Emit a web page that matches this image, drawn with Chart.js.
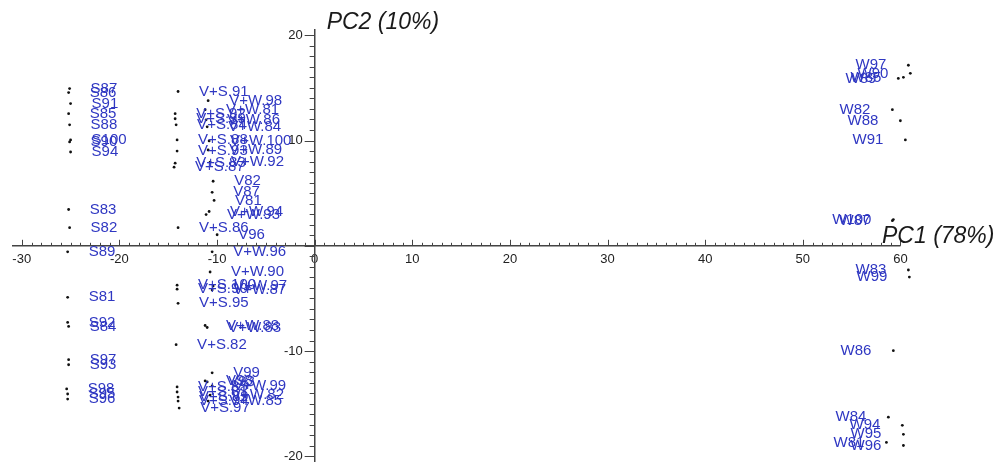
<!DOCTYPE html>
<html>
<head>
<meta charset="utf-8">
<script src="https://cdn.jsdelivr.net/npm/chart.js@4.4.1/dist/chart.umd.min.js"></script>
<style>
  html, body { margin: 0; padding: 0; background: #ffffff; }
  #wrap { width: 999px; height: 463px; position: relative; }
</style>
</head>
<body>
<div id="wrap"><canvas id="c"></canvas></div>
<script>
// ---- Data (PC1 = x, PC2 = y) ----
const sLabels = ['S87','S86','S91','S85','S88','S100','S90','S94','S83','S82','S89','S81','S92','S84','S97','S93','S98','S95','S96'];
const sX = [-25.1,-25.2,-25.0,-25.2,-25.1,-25.0,-25.1,-25.0,-25.2,-25.1,-25.3,-25.3,-25.3,-25.2,-25.2,-25.2,-25.4,-25.3,-25.3];
const sY = [14.94,14.56,13.51,12.55,11.49,10.06,9.87,8.91,3.45,1.72,-0.57,-4.89,-7.28,-7.66,-10.82,-11.30,-13.60,-14.08,-14.56];

const vsLabels = ['V+S.91','V+S.92','V+S.99','V+S.84','V+S.88','V+S.93','V+S.83','V+S.87','V+S.86','V+S.100','V+S.90','V+S.95','V+S.82','V+S.85','V+S.81','V+S.89','V+S.94','V+S.97'];
const vsX = [-13.99,-14.29,-14.29,-14.19,-14.09,-14.09,-14.29,-14.40,-13.99,-14.09,-14.09,-13.99,-14.19,-14.09,-14.09,-13.99,-13.99,-13.88];
const vsY = [14.66,12.55,12.07,11.49,10.06,9.00,7.85,7.47,1.72,-3.74,-4.12,-5.46,-9.39,-13.41,-13.89,-14.37,-14.75,-15.42];

const vwLabels = ['V+W.98','V+W.81','V+W.86','V+W.84','V+W.100','V+W.89','V+W.92','V+W.93','V+W.94','V+W.96','V+W.90','V+W.97','V+W.87','V+W.88','V+W.83','V+W.99','V+W.82','V+W.85'];
const vwX = [-10.91,-11.22,-11.12,-11.01,-10.81,-10.91,-10.71,-11.12,-10.81,-10.50,-10.71,-10.40,-10.50,-11.22,-11.01,-10.50,-10.71,-10.91];
const vwY = [13.79,12.93,11.97,11.30,9.96,9.10,7.95,2.97,3.26,-0.57,-2.49,-3.83,-4.21,-7.57,-7.76,-13.31,-14.18,-14.75];

const vLabels = ['V82','V87','V81','V96','V99','V98','V93'];
const vX = [-10.40,-10.50,-10.30,-9.99,-10.50,-11.22,-11.01];
const vY = [6.13,5.08,4.31,1.05,-12.07,-12.84,-12.93];

const wLabels = ['W97','W90','W89','W85','W82','W88','W91','W87','W100','W83','W99','W86','W84','W94','W95','W96','W81'];
const wX = [60.81,61.01,59.78,60.30,59.17,59.99,60.50,59.17,59.27,60.81,60.91,59.27,58.76,60.19,60.30,60.30,58.56];
const wY = [17.15,16.38,15.90,16.00,12.93,11.88,10.06,2.39,2.49,-2.30,-2.97,-9.96,-16.28,-17.05,-17.91,-18.97,-18.68];

const xTickValues = [-30,-20,-10,0,10,20,30,40,50,60];
const yTickValues = [-20,-10,10,20];
const xTitle = 'PC1 (78%)';
const yTitle = 'PC2 (10%)';

function pts(xs, ys) { return xs.map((x, i) => ({ x: x, y: ys[i] })); }

const groups = [
  { labels: sLabels, data: pts(sX, sY) },
  { labels: vsLabels, data: pts(vsX, vsY) },
  { labels: vwLabels, data: pts(vwX, vwY) },
  { labels: vLabels, data: pts(vX, vY) },
  { labels: wLabels, data: pts(wX, wY) }
];

const LABEL_COLOR = '#2f37c2';
const AXIS_COLOR = '#444444';
const TICK_FONT = '13px "Liberation Sans", Arial, sans-serif';

const pointLabelPlugin = {
  id: 'pointLabels',
  afterDatasetsDraw(chart) {
    const ctx = chart.ctx;
    ctx.save();
    ctx.font = '15px "Liberation Sans", Arial, sans-serif';
    ctx.fillStyle = LABEL_COLOR;
    ctx.textBaseline = 'middle';
    chart.data.datasets.forEach((ds, di) => {
      const meta = chart.getDatasetMeta(di);
      meta.data.forEach((el, i) => {
        const lbl = groups[di].labels[i];
        if (ds.data[i].x >= 0) {
          ctx.textAlign = 'right';
          ctx.fillText(lbl, el.x - 22, el.y);
        } else {
          ctx.textAlign = 'left';
          ctx.fillText(lbl, el.x + 21, el.y);
        }
      });
    });
    ctx.restore();
  }
};

const axisDecorPlugin = {
  id: 'axisDecor',
  beforeDatasetsDraw(chart) {
    const ctx = chart.ctx;
    const xs = chart.scales.x, ys = chart.scales.y;
    const x0 = xs.getPixelForValue(0), y0 = ys.getPixelForValue(0);
    ctx.save();
    // x axis line from -31 to 60
    ctx.strokeStyle = AXIS_COLOR;
    ctx.lineWidth = 1.5;
    ctx.beginPath();
    ctx.moveTo(xs.getPixelForValue(-31), y0);
    ctx.lineTo(xs.getPixelForValue(60), y0);
    ctx.stroke();
    // minor / major tick marks
    ctx.lineWidth = 1;
    ctx.beginPath();
    for (let v = -30; v <= 60; v++) {
      const px = Math.round(xs.getPixelForValue(v)) + 0.5;
      const len = (v % 10 === 0) ? 6 : 3;
      ctx.moveTo(px, y0);
      ctx.lineTo(px, y0 - len);
    }
    for (let v = -20; v <= 20; v++) {
      const py = Math.round(ys.getPixelForValue(v)) + 0.5;
      const len = (v % 10 === 0) ? 10 : 5;
      ctx.moveTo(x0, py);
      ctx.lineTo(x0 - len, py);
    }
    ctx.stroke();
    // y tick labels
    ctx.fillStyle = '#222222';
    ctx.font = TICK_FONT;
    ctx.textAlign = 'right';
    ctx.textBaseline = 'middle';
    yTickValues.forEach(v => {
      ctx.fillText(String(v), x0 - 12, ys.getPixelForValue(v));
    });
    // axis titles
    ctx.fillStyle = '#1a1a1a';
    ctx.font = 'italic 23px "Liberation Sans", Arial, sans-serif';
    ctx.textAlign = 'left';
    ctx.fillText(yTitle, x0 + 12, 23);
    ctx.fillText(xTitle, 882, y0 - 9);
    ctx.restore();
  }
};

new Chart(document.getElementById('c'), {
  type: 'scatter',
  data: {
    datasets: groups.map((g) => ({
      data: g.data,
      pointRadius: 1.4,
      pointHoverRadius: 1.4,
      pointBackgroundColor: '#111111',
      pointBorderWidth: 0,
      clip: false
    }))
  },
  options: {
    responsive: true,
    maintainAspectRatio: false,
    animation: false,
    layout: { padding: { left: 12, right: 79, top: 30, bottom: -8 } },
    plugins: { legend: { display: false }, tooltip: { enabled: false } },
    scales: {
      x: {
        type: 'linear',
        min: -31, max: 62,
        position: { y: 0 },
        afterFit(scale) { scale.height = 0; },
        afterBuildTicks(scale) { scale.ticks = xTickValues.map(v => ({ value: v })); },
        grid: { drawOnChartArea: false, drawTicks: false },
        border: { display: false },
        ticks: {
          autoSkip: false, maxRotation: 0, padding: 6,
          color: '#222222',
          font: { family: '"Liberation Sans", Arial, sans-serif', size: 13 },
          callback: (v) => String(v)
        }
      },
      y: {
        type: 'linear',
        min: -20.5, max: 20.5,
        position: { x: 0 },
        afterFit(scale) { scale.width = 0; },
        afterBuildTicks(scale) { scale.ticks = yTickValues.map(v => ({ value: v })); },
        grid: { drawOnChartArea: false, drawTicks: false },
        border: { display: true, color: AXIS_COLOR, width: 1.5 },
        ticks: { display: false }
      }
    }
  },
  plugins: [pointLabelPlugin, axisDecorPlugin]
});
</script>
</body>
</html>
